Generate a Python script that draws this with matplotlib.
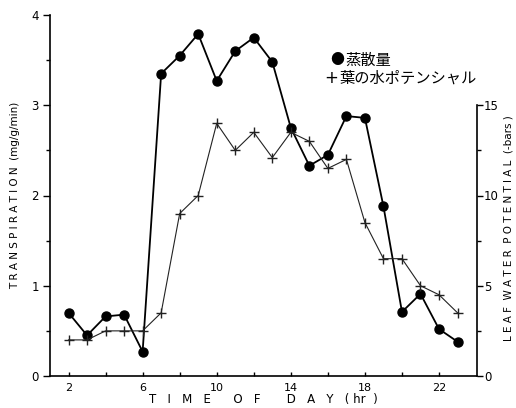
import matplotlib
matplotlib.use("Agg")
import matplotlib.pyplot as plt
from matplotlib.ticker import MultipleLocator, FixedLocator

hours = [2, 3, 4, 5, 6, 7, 8, 9, 10, 11, 12, 13, 14, 15, 16, 17, 18, 19, 20, 21, 22, 23]
transpiration = [0.70, 0.45, 0.66, 0.68, 0.27, 3.35, 3.55, 3.79, 3.27, 3.60, 3.75, 3.48,
                 2.75, 2.33, 2.45, 2.88, 2.86, 1.88, 0.71, 0.91, 0.52, 0.38]
leaf_potential = [2.0, 2.0, 2.5, 2.5, 2.5, 3.5, 9.0, 10.0, 14.0, 12.5, 13.5, 12.1,
                  13.5, 13.0, 11.5, 12.0, 8.5, 6.5, 6.5, 5.0, 4.5, 3.5]
x_ticklabels = [2, 6, 10, 14, 18, 22]
left_ticks = [0, 1, 2, 3, 4]
right_ticks = [0, 5, 10, 15]
legend_labels = ["蒸散量", "葉の水ポテンシャル"]

plt.rcParams['font.family'] = ['DejaVu Sans']

fig = plt.figure(figsize=(5.16, 4.08), dpi=100)
ax = fig.add_axes([50/516, 1-376/408, (477-50)/516, (376-15)/408])
ax2 = ax.twinx()

ax.set_xlim(1, 24.05)
ax.set_ylim(0, 4)
ax2.set_ylim(0, 20)

ax.plot(hours, transpiration, color='black', lw=1.3, marker='o', ms=6.5,
        mfc='black', mec='black', zorder=3)
ax2.plot(hours, leaf_potential, color='#222222', lw=0.8, marker='+', ms=7,
         mew=1.0, zorder=3)

for a in (ax, ax2):
    a.spines['top'].set_visible(False)
ax.spines['right'].set_visible(False)
ax2.spines['left'].set_visible(False)
ax2.spines['bottom'].set_visible(False)
ax2.spines['right'].set_bounds(0, 15)
for s in ('left', 'bottom'):
    ax.spines[s].set_linewidth(1.2)
ax2.spines['right'].set_linewidth(1.2)

ax.xaxis.set_major_locator(FixedLocator(x_ticklabels))
ax.xaxis.set_minor_locator(FixedLocator([4, 8, 12, 16, 20]))
ax.set_xticklabels([str(v) for v in x_ticklabels])
ax.tick_params(axis='x', which='both', direction='in', length=3, width=1, pad=5,
               labelsize=8)
ax.set_yticks(left_ticks)
ax.yaxis.set_minor_locator(MultipleLocator(0.5))
ax.tick_params(axis='y', which='major', direction='out', length=5, width=1, pad=3,
               labelsize=8.5)
ax.tick_params(axis='y', which='minor', direction='out', length=3, width=1)

ax2.set_yticks(right_ticks)
ax2.yaxis.set_minor_locator(FixedLocator([2.5, 7.5, 12.5]))
ax2.tick_params(axis='y', which='major', direction='out', length=4, width=1, pad=1,
                labelsize=8.5)
ax2.tick_params(axis='y', which='minor', direction='out', length=3, width=1)

ax.set_ylabel("T R A N S P I R A T I O N  (mg/g/min)", fontsize=7.5)
ax.yaxis.set_label_coords(-30/427, 0.5)
ax.set_xlabel("T   I   M   E      O   F       D   A   Y   ( hr  )", fontsize=8.5)
ax.xaxis.set_label_coords(0.5, -17/361)
ax2.set_ylabel("L E A F  W A T E R  P O T E N T I A L  (-bars )", fontsize=7.5,
               rotation=90)
ax2.yaxis.set_label_coords(1.061, (376-228)/361)

cjk = ['Noto Sans CJK JP', 'DejaVu Sans']
fig.text(330/516, 1-60/408, "●", fontsize=10, family=cjk, ha='left', va='center')
fig.text(345/516, 1-60/408, legend_labels[0], fontsize=11, family=cjk, ha='left', va='center')
fig.text(324/516, 1-78/408, "+", fontsize=12, family=['DejaVu Sans'], ha='left', va='center')
fig.text(340/516, 1-78/408, legend_labels[1], fontsize=11, family=cjk, ha='left', va='center')

fig.savefig("out.png", dpi=100)
